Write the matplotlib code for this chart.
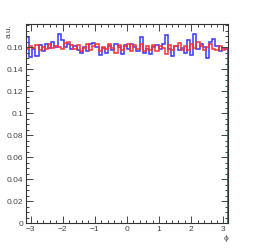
import numpy as np
import matplotlib.pyplot as plt
from matplotlib.ticker import MultipleLocator

plt.rcParams['font.family'] = ['Liberation Sans', 'DejaVu Sans']

# 64 bins over [-pi, pi]
n_bins = 64
edges = np.linspace(-np.pi, np.pi, n_bins + 1)

blue = [0.169, 0.151, 0.158, 0.152, 0.162, 0.156, 0.163, 0.159, 0.165, 0.160,
        0.172, 0.166, 0.160, 0.163, 0.158, 0.161, 0.157, 0.155, 0.160, 0.156,
        0.163, 0.164, 0.160, 0.153, 0.159, 0.155, 0.161, 0.157, 0.163, 0.160,
        0.154, 0.162, 0.158, 0.163, 0.160, 0.156, 0.169, 0.155, 0.158, 0.154,
        0.160, 0.162, 0.158, 0.163, 0.171, 0.158, 0.152, 0.161, 0.157, 0.159,
        0.155, 0.166, 0.153, 0.172, 0.158, 0.163, 0.160, 0.150, 0.165, 0.167,
        0.161, 0.156, 0.159, 0.158]

red = [0.158, 0.161, 0.159, 0.162, 0.157, 0.160, 0.158, 0.163, 0.159, 0.161,
       0.160, 0.158, 0.164, 0.165, 0.162, 0.158, 0.162, 0.156, 0.159, 0.163,
       0.157, 0.161, 0.163, 0.156, 0.160, 0.158, 0.163, 0.159, 0.155, 0.162,
       0.157, 0.161, 0.163, 0.156, 0.162, 0.158, 0.163, 0.156, 0.161, 0.157,
       0.162, 0.156, 0.161, 0.159, 0.154, 0.162, 0.157, 0.161, 0.164, 0.157,
       0.161, 0.157, 0.163, 0.159, 0.165, 0.161, 0.157, 0.160, 0.163, 0.158,
       0.157, 0.161, 0.157, 0.159]

fig = plt.figure(figsize=(2.67, 2.48), dpi=100)
ax = fig.add_axes([26 / 267, 25 / 248, 202 / 267, 199 / 248])

ax.stairs(blue, edges, color='#3535ff', lw=1.1)
ax.stairs(red, edges, color='#ff3030', lw=1.1)

ax.set_xlim(-np.pi, np.pi)
ax.set_ylim(0, 0.181)

ax.xaxis.set_major_locator(MultipleLocator(1))
ax.xaxis.set_minor_locator(MultipleLocator(0.2))
ax.yaxis.set_minor_locator(MultipleLocator(0.005))
ax.set_yticks(np.arange(0, 0.17, 0.02))
ax.set_yticklabels(['0', '0.02', '0.04', '0.06', '0.08', '0.1', '0.12', '0.14', '0.16'])

ax.tick_params(which='both', direction='in', top=True, right=True,
               labelsize=6, colors='#444444', width=0.7, pad=2)
ax.tick_params(which='major', length=5)
ax.tick_params(which='minor', length=2.5)
for s in ax.spines.values():
    s.set_linewidth(0.8)
    s.set_color('#333333')

fig.text(9 / 267, 1 - 31 / 248, 'a.u.', rotation=90, fontsize=6,
         color='#444444', ha='center', va='center')
fig.text(226 / 267, 1 - 238 / 248, 'ϕ', fontsize=6,
         color='#444444', ha='center', va='center')

fig.savefig('out.png', dpi=100)
